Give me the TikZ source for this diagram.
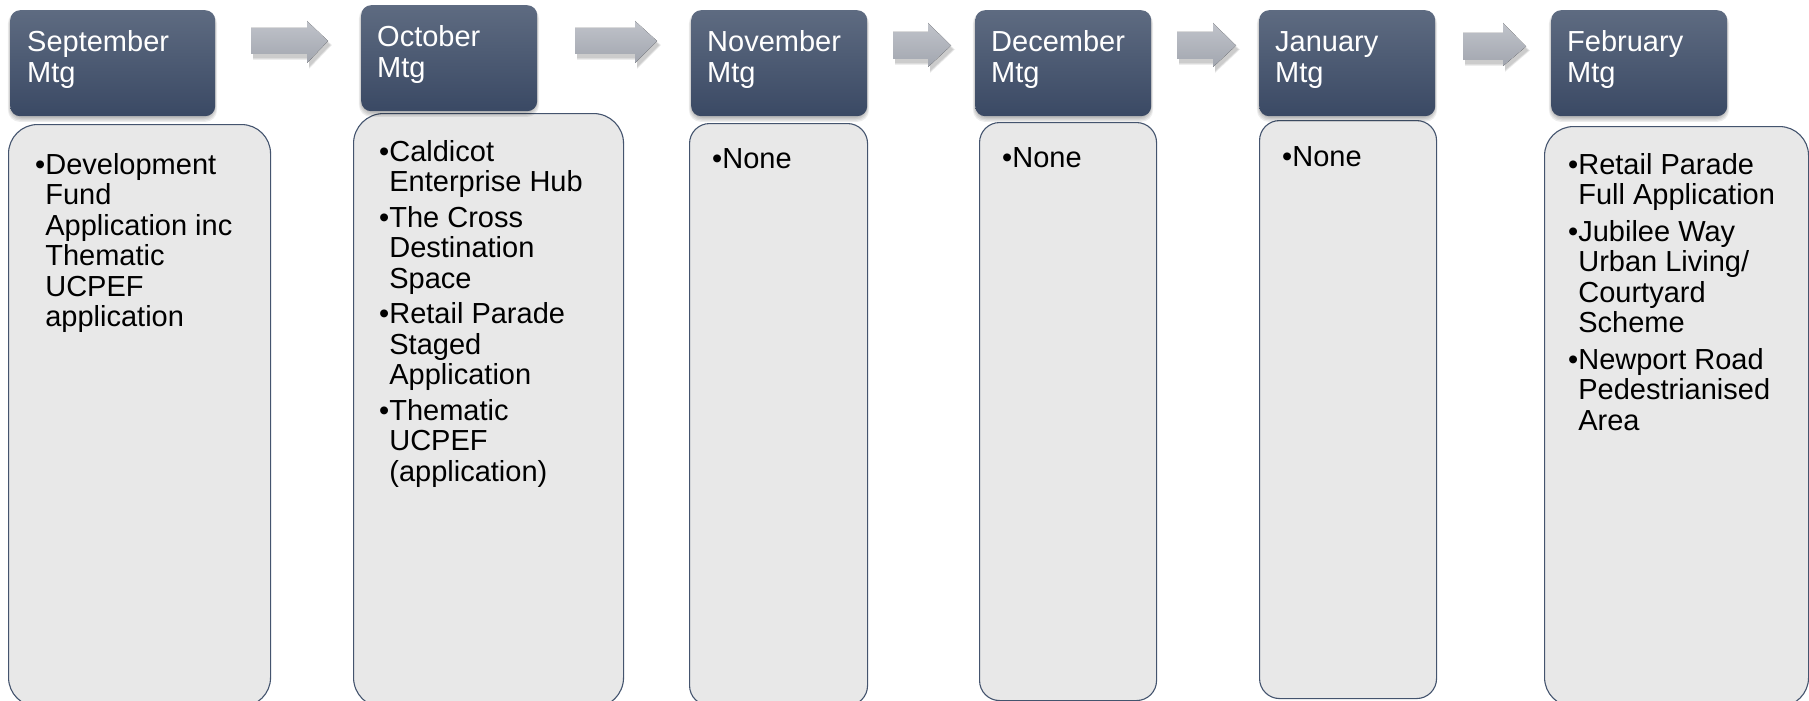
\documentclass[tikz,border=0pt]{standalone}
\usepackage{fontspec}
\setmainfont{Liberation Sans}
\definecolor{hdtop}{RGB}{94,107,129}
\definecolor{hdbot}{RGB}{58,73,100}
\definecolor{bodyfill}{RGB}{232,232,232}
\definecolor{bodyline}{RGB}{68,84,110}
\definecolor{artop}{RGB}{192,195,202}
\definecolor{arbot}{RGB}{162,166,175}
\newcommand\ind{\phantom{•}}
\newcommand\bline[1]{\hbox{#1}}
\newcommand\hdshadow[4]{%
  \foreach \k in {0,1,2,3}{%
    \fill[black, opacity=0.07, rounded corners=12pt]
      ({#1-\k*0.7},{#2+3-\k*0.5}) rectangle ({#3+\k*0.7},{#4+2+\k*1.3});}}
\newcommand\grayarrow[7]{%
  \foreach \k in {0,1,2}{%
    \fill[black, opacity=0.07]
      ({#1+2},{#4+4+\k}) -- ({#3+2},{#4+4+\k}) -- ({#3+2},{#6+4}) -- ({#2+2+\k},{(#4+#5)/2+4}) -- ({#3+2},{#7+4+\k}) -- ({#3+2},{#5+4+\k}) -- ({#1+2},{#5+4+\k}) -- cycle;}
  \fill[arrowshade] (#1,#4) -- (#3,#4) -- (#3,#6) -- (#2,{(#4+#5)/2}) -- (#3,#7) -- (#3,#5) -- (#1,#5) -- cycle;}
\tikzset{
  arrowshade/.style={top color=artop, bottom color=arbot},
  hdr/.style={anchor=north west, inner sep=0pt, rounded corners=10pt, top color=hdtop, bottom color=hdbot, minimum height=106pt},
  bodybox/.style={anchor=north west, inner sep=0pt, fill=bodyfill, draw=bodyline, line width=1.1pt},
  hdtxt/.style={anchor=base west, inner sep=0pt, text=white, font=\fontsize{29pt}{30.5pt}\selectfont},
  bodytxt/.style={anchor=base west, inner sep=0pt, text=black, font=\fontsize{29pt}{30.5pt}\selectfont}
}
\begin{document}
\begin{tikzpicture}[x=1pt, y=-1pt]
\useasboundingbox (0,0) rectangle (1809,701);
\fill[white] (0,0) rectangle (1809,701);
\clip (0,0) rectangle (1809,701);
% body boxes
\node[bodybox, minimum width=262pt, minimum height=582pt, rounded corners=29pt] (b1) at (8,124) {};
\node[bodybox, minimum width=270pt, minimum height=594pt, rounded corners=30pt] (b2) at (353,113) {};
\node[bodybox, minimum width=178pt, minimum height=582pt, rounded corners=20pt] (b3) at (689,123) {};
\node[bodybox, minimum width=177pt, minimum height=578pt, rounded corners=20pt] (b4) at (979,122) {};
\node[bodybox, minimum width=177pt, minimum height=578pt, rounded corners=20pt] (b5) at (1259,120) {};
\node[bodybox, minimum width=264pt, minimum height=580pt, rounded corners=29pt] (b6) at (1544,126) {};
% header shadows
\hdshadow{10}{10}{215}{116}
\hdshadow{361}{5}{537}{111}
\hdshadow{691}{10}{867}{116}
\hdshadow{975}{10}{1151}{116}
\hdshadow{1259}{10}{1435}{116}
\hdshadow{1551}{10}{1727}{116}
% headers
\node[hdr, minimum width=205pt] (h1) at (10,10) {};
\node[hdr, minimum width=176pt] (h2) at (361,5) {};
\node[hdr, minimum width=176pt] (h3) at (691,10) {};
\node[hdr, minimum width=176pt] (h4) at (975,10) {};
\node[hdr, minimum width=176pt] (h5) at (1259,10) {};
\node[hdr, minimum width=176pt] (h6) at (1551,10) {};
% header texts
\node[hdtxt] (t1) at (27,52) {\vtop{\bline{September}\bline{Mtg}}};
\node[hdtxt] (t2) at (377,47) {\vtop{\bline{October}\bline{Mtg}}};
\node[hdtxt] (t3) at (707,52) {\vtop{\bline{November}\bline{Mtg}}};
\node[hdtxt] (t4) at (991,52) {\vtop{\bline{December}\bline{Mtg}}};
\node[hdtxt] (t5) at (1275,52) {\vtop{\bline{January}\bline{Mtg}}};
\node[hdtxt] (t6) at (1567,52) {\vtop{\bline{February}\bline{Mtg}}};
% arrows
\grayarrow{251}{328}{307}{28}{54}{21}{63}
\grayarrow{575}{657}{635}{28}{54}{21}{63}
\grayarrow{893}{951}{928}{32}{59}{23}{67}
\grayarrow{1177}{1236}{1213}{32}{59}{23}{67}
\grayarrow{1463}{1526}{1503}{33}{60}{23}{66}
% body texts
\node[bodytxt] (c1) at (35,174) {\vtop{\bline{•Development}\bline{\ind Fund}\bline{\ind Application inc}\bline{\ind Thematic}\bline{\ind UCPEF}\bline{\ind application}}};
\node[bodytxt] (c2) at (379,161) {\vtop{\bline{•Caldicot}\bline{\ind Enterprise Hub}\vskip5pt
  \bline{•The Cross}\bline{\ind Destination}\bline{\ind Space}\vskip5pt
  \bline{•Retail Parade}\bline{\ind Staged}\bline{\ind Application}\vskip5pt
  \bline{•Thematic}\bline{\ind UCPEF}\bline{\ind (application)}}};
\node[bodytxt] (c3) at (712,168) {•None};
\node[bodytxt] (c4) at (1002,167) {•None};
\node[bodytxt] (c5) at (1282,166) {•None};
\node[bodytxt] (c6) at (1568,174) {\vtop{\bline{•Retail Parade}\bline{\ind Full Application}\vskip6pt
  \bline{•Jubilee Way}\bline{\ind Urban Living/}\bline{\ind Courtyard}\bline{\ind Scheme}\vskip6pt
  \bline{•Newport Road}\bline{\ind Pedestrianised}\bline{\ind Area}}};
\end{tikzpicture}
\end{document}
